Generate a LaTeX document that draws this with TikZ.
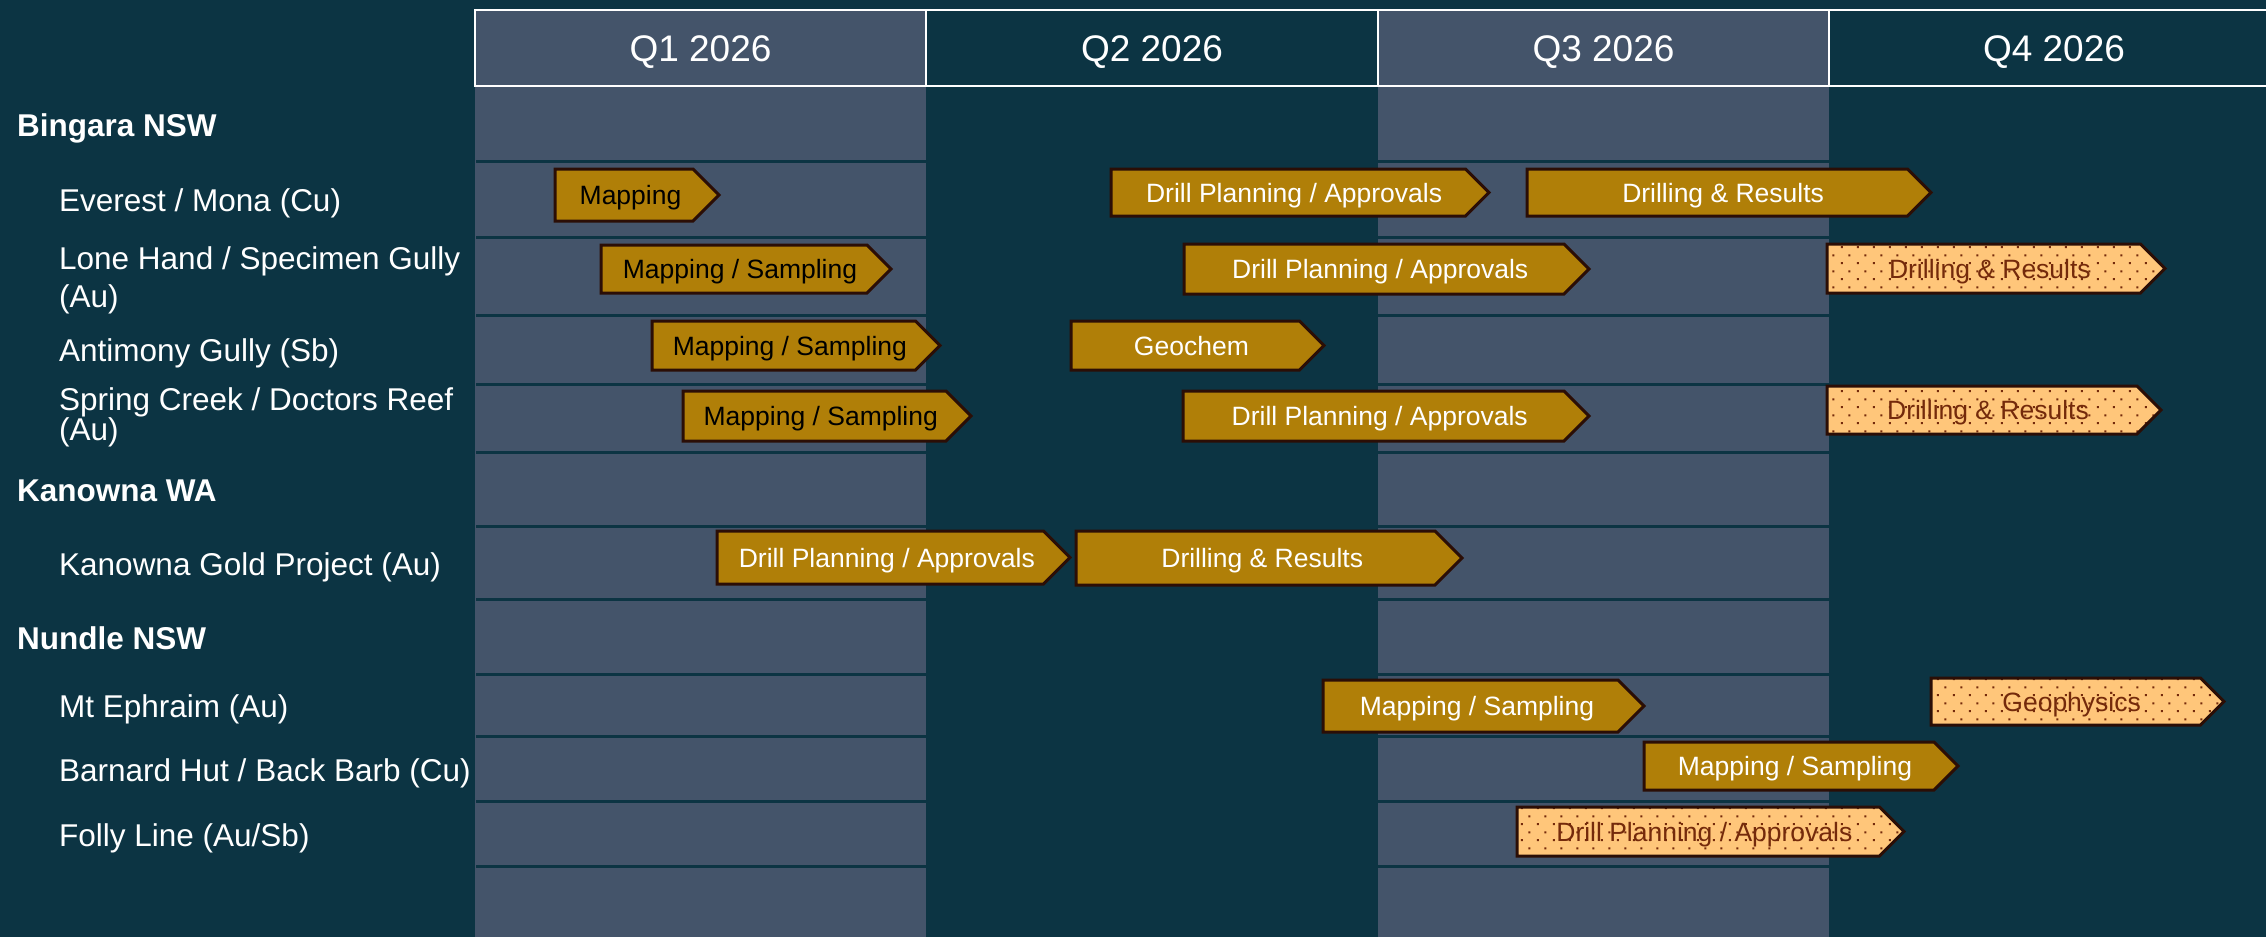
\documentclass[tikz,border=0pt]{standalone}
\usepackage{fontspec}
\setmainfont{Liberation Sans}
\usetikzlibrary{patterns}

\definecolor{bg}{HTML}{0C3443}
\definecolor{band}{HTML}{44546A}
\definecolor{rowrule}{HTML}{0C3443}
\definecolor{gold}{HTML}{B07F08}
\definecolor{edge}{HTML}{2B0E06}
\definecolor{pale}{HTML}{FFC67A}
\definecolor{rust}{HTML}{742A0B}

% staggered dot grid used for tentative activities
\pgfdeclarepatternformonly{stagdots}{\pgfpointorigin}{\pgfpoint{16pt}{16pt}}{\pgfpoint{16pt}{16pt}}{%
  \pgfpathrectangle{\pgfpoint{1pt}{1pt}}{\pgfpoint{2pt}{2pt}}%
  \pgfpathrectangle{\pgfpoint{9pt}{9pt}}{\pgfpoint{2pt}{2pt}}%
  \pgfusepath{fill}}

% activity arrow: bar style, text style, name, x1, x tip, y top, y bottom, text
\newcommand{\mkbar}[8]{%
  \pgfmathsetmacro{\bhh}{(#7-#6)/2}%
  \pgfmathsetmacro{\bym}{(#6+#7)/2}%
  \pgfmathsetmacro{\bxt}{#5-\bhh}%
  \pgfmathsetmacro{\bxc}{(#4+#5)/2-\bhh/4}%
  \path[#1] (#4,#6) -- (\bxt,#6) -- (#5,\bym) -- (\bxt,#7) -- (#4,#7) -- cycle;
  \node[bartext,#2] (#3) at (\bxc,\bym) {#8};
}

\tikzset{
  goldbar/.style={fill=gold, draw=edge, line width=3pt, line join=miter},
  palebar/.style={preaction={fill=pale}, pattern=stagdots, pattern color=rust,
                  draw=edge, line width=3pt, line join=miter},
  bartext/.style={inner sep=0pt, text height=19pt, text depth=0pt,
                  font=\fontsize{26.5}{30}\selectfont},
  whitetxt/.style={text=white},
  blacktxt/.style={text=black},
  rusttxt/.style={text=rust},
  qhead/.style={inner sep=0pt, text height=26.5pt, text depth=0pt, text=white,
                font=\fontsize{37}{40}\selectfont},
  rowlabel/.style={inner sep=0pt, anchor=base west, text=white,
                   font=\fontsize{31.5}{38}\selectfont},
  grouplabel/.style={rowlabel, font=\fontsize{31.5}{38}\selectfont\bfseries},
}

\begin{document}
\begin{tikzpicture}[x=1pt, y=-1pt]
\useasboundingbox (0,0) rectangle (2266,937);
\fill[bg] (0,0) rectangle (2266,937);

% shaded quarter columns (Q1, Q3)
\fill[band] (475,10) rectangle (926,937);
\fill[band] (1378,10) rectangle (1829,937);

% row separators
\foreach \yy in {161,237,315,384,452,526,599,674,736,801,866}
  \draw[rowrule, line width=3pt] (476,\yy) -- (2266,\yy);

% header frame
\draw[white, line width=2.5pt] (2266,10) -- (475,10) -- (475,86) -- (2266,86);
\foreach \xx in {926,1378,1829}
  \draw[white, line width=2pt] (\xx,10) -- (\xx,86);

\node[qhead] (q1) at (700.5,48) {Q1 2026};
\node[qhead] (q2) at (1152,48) {Q2 2026};
\node[qhead] (q3) at (1603.5,48) {Q3 2026};
\node[qhead] (q4) at (2054,48) {Q4 2026};

% project labels
\node[grouplabel] (bingara) at (17,136) {Bingara NSW};
\node[rowlabel] (everest) at (59,211) {Everest / Mona (Cu)};
\node[rowlabel, anchor=west, align=left] (lonehand) at (59,280) {Lone Hand / Specimen Gully\\(Au)};
\node[rowlabel] (antimony) at (59,361) {Antimony Gully (Sb)};
\node[rowlabel, anchor=west, align=left, font=\fontsize{31.5}{29}\selectfont] (spring) at (59,417.5) {Spring Creek / Doctors Reef\\(Au)};
\node[grouplabel] (kanowna) at (17,501) {Kanowna WA};
\node[rowlabel] (kgp) at (59,575) {Kanowna Gold Project (Au)};
\node[grouplabel] (nundle) at (17,649) {Nundle NSW};
\node[rowlabel] (ephraim) at (59,717) {Mt Ephraim (Au)};
\node[rowlabel] (barnard) at (59,781) {Barnard Hut / Back Barb (Cu)};
\node[rowlabel] (folly) at (59,846) {Folly Line (Au/Sb)};

% activities
\mkbar{goldbar}{blacktxt}{ev1}{555}{719}{169}{221}{Mapping}
\mkbar{goldbar}{whitetxt}{ev2}{1111}{1489}{169}{216}{Drill Planning / Approvals}
\mkbar{goldbar}{whitetxt}{ev3}{1527}{1931}{169}{216}{Drilling \& Results}

\mkbar{goldbar}{blacktxt}{lh1}{601}{891}{245}{293}{Mapping / Sampling}
\mkbar{goldbar}{whitetxt}{lh2}{1184}{1589}{244}{294}{Drill Planning / Approvals}
\mkbar{palebar}{rusttxt}{lh3}{1827}{2165}{244}{293}{Drilling \& Results}

\mkbar{goldbar}{blacktxt}{ag1}{652}{940}{321}{370}{Mapping / Sampling}
\mkbar{goldbar}{whitetxt}{ag2}{1071}{1324}{321}{370}{Geochem}

\mkbar{goldbar}{blacktxt}{sc1}{683}{971}{391}{441}{Mapping / Sampling}
\mkbar{goldbar}{whitetxt}{sc2}{1183}{1589}{391}{441}{Drill Planning / Approvals}
\mkbar{palebar}{rusttxt}{sc3}{1827}{2161}{386}{434}{Drilling \& Results}

\mkbar{goldbar}{whitetxt}{kg1}{717}{1070}{531}{584}{Drill Planning / Approvals}
\mkbar{goldbar}{whitetxt}{kg2}{1076}{1462}{531}{585}{Drilling \& Results}

\mkbar{goldbar}{whitetxt}{me1}{1323}{1644}{680}{732}{Mapping / Sampling}
\mkbar{palebar}{rusttxt}{me2}{1931}{2224}{678}{725}{Geophysics}

\mkbar{goldbar}{whitetxt}{bh1}{1644}{1958}{742}{790}{Mapping / Sampling}

\mkbar{palebar}{rusttxt}{fl1}{1517}{1904}{807}{856}{Drill Planning / Approvals}
\end{tikzpicture}
\end{document}
